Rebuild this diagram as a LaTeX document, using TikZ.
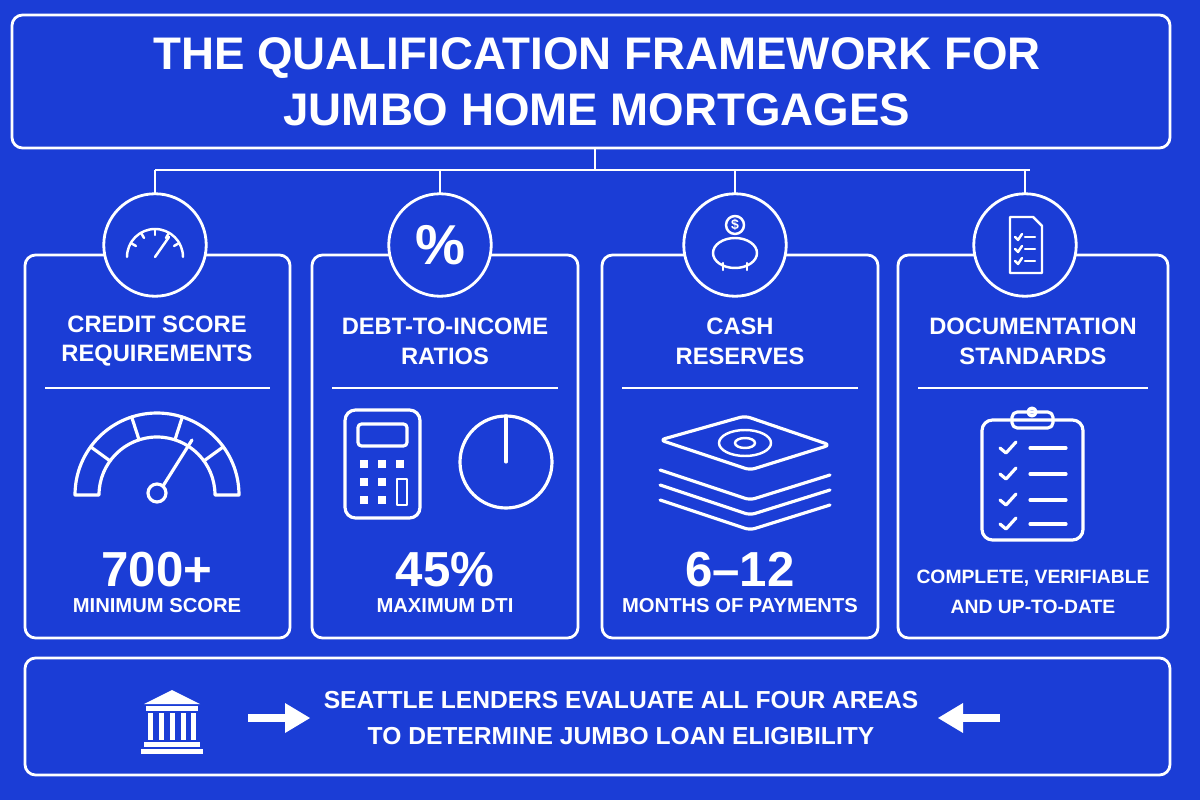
\documentclass[tikz,border=0pt]{standalone}
\usepackage{fontspec}
\setmainfont{Liberation Sans}
\usetikzlibrary{positioning,calc}
\definecolor{bgblue}{HTML}{1B3DD6}
\tikzset{
  card/.style={draw=white, line width=1.6pt, rounded corners=6pt, anchor=north west},
  badge/.style={circle, draw=white, line width=1.6pt, fill=bgblue, minimum size=2.05cm},
  headtxt/.style={text=white, font=\bfseries\fontsize{13.5}{17}\selectfont, align=center},
  bigtxt/.style={text=white, font=\bfseries\fontsize{28}{30}\selectfont},
  subtxt/.style={text=white, font=\bfseries\fontsize{11.5}{14}\selectfont, align=center},
  icon/.style={draw=white, line width=1.4pt, line cap=round, line join=round},
}
\begin{document}
\begin{tikzpicture}[x=0.02cm, y=-0.02cm]
    % --- background ---
    \fill[bgblue] (0,0) rectangle (1200,800);
    \useasboundingbox (0,0) rectangle (1200,800);

    % --- title ---
    \draw[card] (12,15) rectangle (1170,148);
    \node[text=white, font=\bfseries\fontsize{26}{32}\selectfont, align=center] (title) at (597,82)
        {THE QUALIFICATION FRAMEWORK FOR\\JUMBO HOME MORTGAGES};

    % --- cards ---
    \draw[card] (25,255) rectangle (290,638);
    \draw[card] (312,255) rectangle (578,638);
    \draw[card] (602,255) rectangle (878,638);
    \draw[card] (898,255) rectangle (1168,638);
    \foreach \a/\b in {45/270, 332/558, 622/858, 918/1148}
        \draw[white, line width=1.2pt] (\a,388) -- (\b,388);

    % --- tree ---
    \coordinate (top) at (595,148);
    \coordinate (hub) at (595,170);
    \draw[white, line width=1.4pt] (top) -- (hub);
    \draw[white, line width=1.4pt] (155,170) -- (1030,170);
    \foreach \x/\n in {155/b1, 440/b2, 735/b3, 1025/b4} {
        \draw[white, line width=1.4pt] (\x,170) -- (\x,200);
        \node[badge] (\n) at (\x,245) {};
    }

    % --- badge icons ---
    \draw[icon] ([shift={(-28,12)}]b1.center) arc (180:0:28 and -28);
    \foreach \t in {150,120,90,60,30}
        \draw[icon] ($(b1.center)+(0,12)+(\t:22 and -22)$) -- ($(b1.center)+(0,12)+(\t:28 and -28)$);
    \draw[icon] ([shift={(0,12)}]b1.center) -- ([shift={(14,-8)}]b1.center);
    \node[text=white, font=\bfseries\fontsize{32}{32}\selectfont] at (b2) {\%};
    \draw[icon] ([shift={(0,8)}]b3.center) ellipse (22 and 15);
    \draw[icon] ([shift={(-12,18)}]b3.center) -- ([shift={(-12,25)}]b3.center);
    \draw[icon] ([shift={(12,18)}]b3.center) -- ([shift={(12,25)}]b3.center);
    \draw[icon] ([shift={(0,-20)}]b3.center) circle (9);
    \node[text=white, font=\bfseries\fontsize{8}{8}\selectfont] at ([shift={(0,-20)}]b3.center) {\$};
    \draw[icon] ([shift={(-15,-28)}]b4.center) -- ([shift={(8,-28)}]b4.center) -- ([shift={(17,-19)}]b4.center)
        -- ([shift={(17,28)}]b4.center) -- ([shift={(-15,28)}]b4.center) -- cycle;
    \foreach \dy in {-8,4,16} {
        \draw[icon] ([shift={(-10,\dy)}]b4.center) -- ([shift={(-7,\dy+3)}]b4.center) -- ([shift={(-3,\dy-3)}]b4.center);
        \draw[icon] ([shift={(0,\dy)}]b4.center) -- ([shift={(10,\dy)}]b4.center);
    }

    % --- card texts ---
    \node[headtxt] (h1) at (157,341) {CREDIT SCORE\\REQUIREMENTS};
    \node[headtxt] (h2) at (445,341) {DEBT-TO-INCOME\\RATIOS};
    \node[headtxt] (h3) at (740,341) {CASH\\RESERVES};
    \node[headtxt] (h4) at (1033,341) {DOCUMENTATION\\STANDARDS};

    \node[bigtxt] (n1) at (157,570) {700+};
    \node[bigtxt] (n2) at (445,570) {45\%};
    \node[bigtxt] (n3) at (740,570) {6–12};
    \node[subtxt] (s1) at (157,606) {MINIMUM SCORE};
    \node[subtxt] (s2) at (445,606) {MAXIMUM DTI};
    \node[subtxt] (s3) at (740,606) {MONTHS OF PAYMENTS};
    \node[subtxt, font=\bfseries\fontsize{11}{17}\selectfont] (s4) at (1033,592) {COMPLETE, VERIFIABLE\\AND UP-TO-DATE};

    % --- card icons ---
    % gauge
    \draw[icon, line width=1.8pt] (75,495) arc (180:0:82 and -82) -- (215,495) arc (0:180:58 and -58) -- cycle;
    \foreach \t in {144,108,72,36}
        \draw[icon, line width=1.8pt] ($(157,495)+(\t:58 and -58)$) -- ($(157,495)+(\t:82 and -82)$);
    \draw[icon, line width=1.8pt] (157,493) circle (9);
    \draw[icon, line width=1.8pt] (163,486) -- (192,440);
    % calculator
    \draw[icon, line width=1.8pt, rounded corners=6pt] (345,410) rectangle (420,518);
    \draw[icon, line width=1.8pt, rounded corners=2pt] (358,424) rectangle (407,446);
    \foreach \r in {0,1,2} \foreach \c in {0,1,2}
        \fill[white] (360+\c*18,460+\r*18) rectangle +(8,8);
    \fill[bgblue] (396,478) rectangle (410,505);
    \draw[icon] (397,479) rectangle (407,505);
    % pie
    \draw[icon, line width=1.8pt] (506,462) circle (46);
    \draw[icon, line width=1.8pt] (506,462) -- (506,416);
    % cash stack
    \foreach \dy in {60,45,30} {
        \draw[icon, line width=1.8pt, rounded corners=3pt] (660,440+\dy) -- (750,470+\dy) -- (830,445+\dy);
    }
    \draw[icon, line width=1.8pt, rounded corners=3pt] (660,440) -- (745,416) -- (830,445) -- (750,470) -- cycle;
    \draw[icon] (745,443) ellipse (26 and 13);
    \draw[icon] (745,443) ellipse (10 and 5);
    % clipboard
    \draw[icon, line width=1.8pt, rounded corners=6pt] (982,420) rectangle (1083,540);
    \draw[icon, line width=1.8pt, rounded corners=3pt] (1012,412) rectangle (1053,428);
    \draw[icon, line width=1.8pt] (1032,412) circle (4);
    \foreach \dy in {448,474,500,524} {
        \draw[icon, line width=1.8pt] (1000,\dy) -- (1006,\dy+5) -- (1016,\dy-6);
        \draw[icon, line width=1.8pt] (1030,\dy) -- (1066,\dy);
    }

    % --- bottom banner ---
    \draw[card] (25,658) rectangle (1170,775);
    \node[text=white, font=\bfseries\fontsize{14}{20}\selectfont, align=center] (note) at (621,718)
        {SEATTLE LENDERS EVALUATE ALL FOUR AREAS\\TO DETERMINE JUMBO LOAN ELIGIBILITY};
    % bank
    \fill[white] (172,690) -- (200,704) -- (144,704) -- cycle;
    \fill[white] (146,706) rectangle (198,711);
    \foreach \x in {150,161,172,183,193} \fill[white] (\x-2,713) rectangle (\x+3,740);
    \fill[white] (144,742) rectangle (200,747);
    \fill[white] (141,749) rectangle (203,754);
    % arrows
    \fill[white] (248,714) rectangle (288,722);
    \fill[white] (285,703) -- (310,718) -- (285,733) -- cycle;
    \fill[white] (960,714) rectangle (1000,722);
    \fill[white] (963,703) -- (938,718) -- (963,733) -- cycle;
\end{tikzpicture}
\end{document}
